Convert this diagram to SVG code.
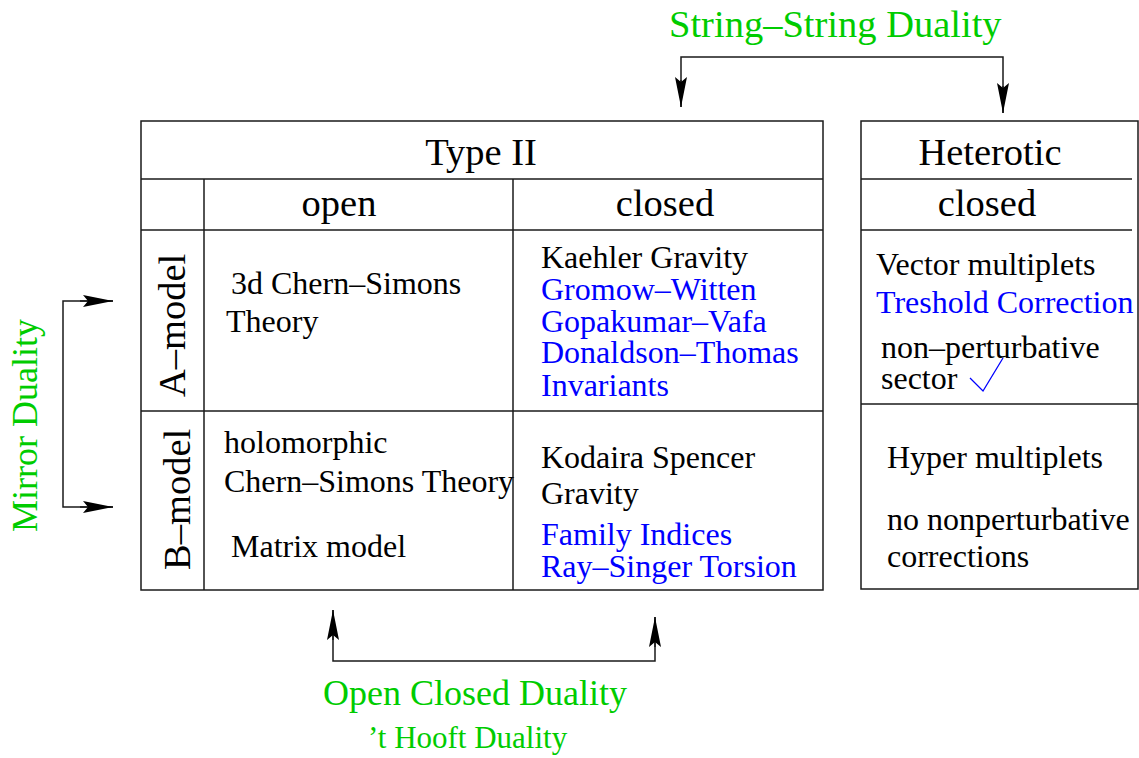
<svg xmlns="http://www.w3.org/2000/svg" width="1139" height="758" viewBox="0 0 1139 758">
<style>
text{font-family:"Liberation Serif","Times New Roman",serif;fill:#000}
.h{font-size:38.5px}
.c{font-size:32px}
.b{fill:#0000ff}
.g{fill:#00cc00}
.ln{stroke:#1a1a1a;stroke-width:1.5;fill:none}
.ar{stroke:#1a1a1a;stroke-width:1.5;fill:none;marker-end:url(#ah)}
</style>
<defs>
<marker id="ah" markerUnits="userSpaceOnUse" markerWidth="32" markerHeight="14" viewBox="-31 -7 32 14" refX="0" refY="0" orient="auto">
<path d="M0,0 L-30,-6 L-25,0 L-30,6 Z" fill="#000"/>
</marker>
</defs>
<rect width="1139" height="758" fill="#fff"/>

<g id="typeII">
<rect class="ln" x="141" y="121" width="682" height="469"/>
<line class="ln" x1="141" y1="179" x2="823" y2="179"/>
<line class="ln" x1="141" y1="230" x2="823" y2="230"/>
<line class="ln" x1="141" y1="411" x2="823" y2="411"/>
<line class="ln" x1="204" y1="179" x2="204" y2="590"/>
<line class="ln" x1="513" y1="179" x2="513" y2="590"/>
<text class="h" x="481" y="165" text-anchor="middle">Type II</text>
<text class="h" x="339" y="216" text-anchor="middle">open</text>
<text class="h" x="665" y="216" text-anchor="middle">closed</text>
<text class="h" transform="translate(185,397) rotate(-90)">A–model</text>
<text class="h" transform="translate(190,570) rotate(-90)">B–model</text>
<text class="c" x="231" y="294">3d Chern–Simons</text>
<text class="c" x="226" y="332">Theory</text>
<text class="c" x="541" y="268">Kaehler Gravity</text>
<text class="c b" x="541" y="300">Gromow–Witten</text>
<text class="c b" x="541" y="332">Gopakumar–Vafa</text>
<text class="c b" x="541" y="363">Donaldson–Thomas</text>
<text class="c b" x="541" y="396">Invariants</text>
<text class="c" x="224" y="453">holomorphic</text>
<text class="c" x="224" y="492">Chern–Simons Theory</text>
<text class="c" x="231" y="557">Matrix model</text>
<text class="c" x="541" y="468">Kodaira Spencer</text>
<text class="c" x="541" y="504">Gravity</text>
<text class="c b" x="541" y="545">Family Indices</text>
<text class="c b" x="541" y="577">Ray–Singer Torsion</text>
</g>

<g id="heterotic">
<rect class="ln" x="861" y="121" width="277" height="468"/>
<line class="ln" x1="861" y1="179" x2="1132" y2="179"/>
<line class="ln" x1="861" y1="230" x2="1132" y2="230"/>
<line class="ln" x1="861" y1="404" x2="1138" y2="404"/>
<text class="h" x="990" y="165" text-anchor="middle">Heterotic</text>
<text class="h" x="987" y="216" text-anchor="middle">closed</text>
<text class="c" x="876" y="275">Vector multiplets</text>
<text class="c b" x="876" y="313">Treshold Correction</text>
<text class="c" x="881" y="358">non–perturbative</text>
<text class="c" x="881" y="389">sector</text>
<polyline points="970,378 983,391 1003,358" fill="none" stroke="#0000ff" stroke-width="1.3"/>
<text class="c" x="887" y="468">Hyper multiplets</text>
<text class="c" x="887" y="530">no nonperturbative</text>
<text class="c" x="887" y="567">corrections</text>
</g>

<g id="connectors">
<path class="ln" d="M681,107 V57 H1003 V113"/>
<line class="ar" x1="681" y1="80" x2="681" y2="107"/>
<line class="ar" x1="1003" y1="86" x2="1003" y2="113"/>
<path class="ln" d="M113,301 H63 V507 H113"/>
<line class="ar" x1="80" y1="301" x2="113" y2="301"/>
<line class="ar" x1="80" y1="507" x2="113" y2="507"/>
<path class="ln" d="M333,610 V661 H655 V617"/>
<line class="ar" x1="333" y1="640" x2="333" y2="610"/>
<line class="ar" x1="655" y1="647" x2="655" y2="617"/>
</g>

<g id="labels">
<text class="g" x="669" y="37" style="font-size:38.5px">String–String Duality</text>
<text class="g" transform="translate(37,532) rotate(-90)" style="font-size:36px">Mirror Duality</text>
<text class="g" x="323" y="705" style="font-size:36px">Open Closed Duality</text>
<text class="g" x="368" y="748" style="font-size:31px">’t Hooft Duality</text>
</g>
</svg>
